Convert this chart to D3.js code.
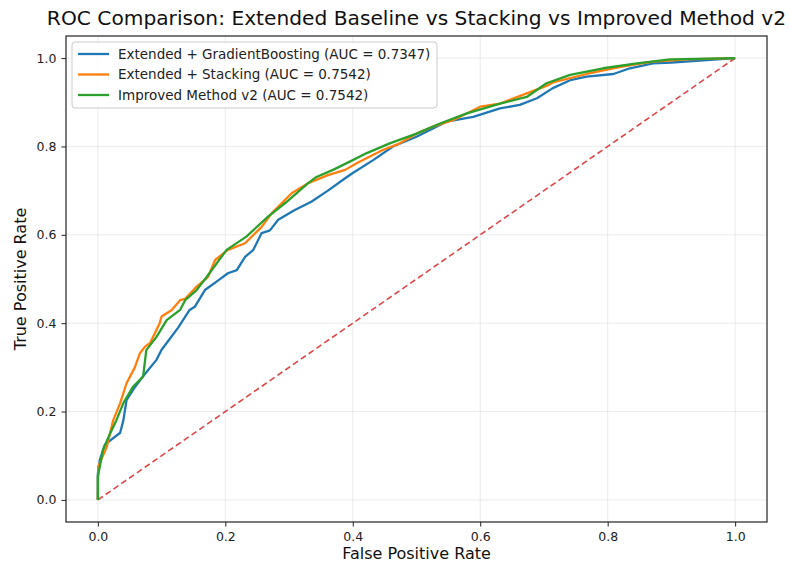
<!DOCTYPE html>
<html>
<head>
<meta charset="utf-8">
<script src="https://cdn.jsdelivr.net/npm/d3@7"></script>
<style>
  body { margin: 0; background: #fff; }
  svg { font-family: "DejaVu Sans", sans-serif; }
</style>
</head>
<body>
<svg id="chart"></svg>
<script>
// ROC points (FPR, TPR)
const gbFpr = [0, 0, 0.003, 0.011, 0.035, 0.04, 0.045, 0.058, 0.07, 0.092, 0.1, 0.108, 0.126, 0.144, 0.152, 0.168, 0.19, 0.204, 0.218, 0.231, 0.244, 0.257, 0.27, 0.283, 0.309, 0.335, 0.361, 0.388, 0.4, 0.432, 0.463, 0.5, 0.547, 0.589, 0.631, 0.662, 0.689, 0.714, 0.741, 0.767, 0.809, 0.835, 0.871, 0.9, 0.95, 1];
const gbTpr = [0, 0.06, 0.09, 0.125, 0.152, 0.18, 0.226, 0.255, 0.278, 0.317, 0.34, 0.355, 0.39, 0.43, 0.437, 0.475, 0.498, 0.513, 0.52, 0.55, 0.566, 0.604, 0.61, 0.634, 0.656, 0.675, 0.70, 0.728, 0.74, 0.769, 0.80, 0.822, 0.856, 0.867, 0.886, 0.894, 0.909, 0.932, 0.95, 0.958, 0.964, 0.977, 0.988, 0.99, 0.995, 1];

const stFpr = [0, 0.0005, 0.014, 0.024, 0.035, 0.045, 0.058, 0.066, 0.074, 0.082, 0.097, 0.1, 0.116, 0.129, 0.137, 0.155, 0.173, 0.184, 0.204, 0.231, 0.257, 0.273, 0.304, 0.33, 0.361, 0.388, 0.406, 0.447, 0.474, 0.5, 0.526, 0.558, 0.6, 0.631, 0.673, 0.704, 0.714, 0.767, 0.82, 0.871, 0.924, 1];
const stTpr = [0, 0.075, 0.12, 0.18, 0.219, 0.264, 0.30, 0.332, 0.347, 0.355, 0.40, 0.415, 0.43, 0.452, 0.455, 0.483, 0.505, 0.543, 0.566, 0.581, 0.618, 0.649, 0.694, 0.717, 0.735, 0.747, 0.762, 0.792, 0.807, 0.829, 0.845, 0.86, 0.89, 0.897, 0.92, 0.937, 0.945, 0.964, 0.98, 0.992, 0.997, 1];

const imFpr = [0, 0, 0.008, 0.019, 0.029, 0.04, 0.055, 0.071, 0.076, 0.092, 0.108, 0.129, 0.137, 0.155, 0.171, 0.202, 0.233, 0.267, 0.294, 0.33, 0.343, 0.369, 0.4, 0.422, 0.458, 0.5, 0.537, 0.579, 0.631, 0.673, 0.704, 0.741, 0.793, 0.846, 0.898, 1];
const imTpr = [0, 0.053, 0.113, 0.15, 0.18, 0.219, 0.256, 0.279, 0.339, 0.369, 0.407, 0.43, 0.452, 0.475, 0.505, 0.566, 0.596, 0.641, 0.672, 0.717, 0.731, 0.747, 0.769, 0.785, 0.807, 0.829, 0.852, 0.875, 0.897, 0.912, 0.943, 0.962, 0.977, 0.988, 0.997, 1];

const seriesNames = [
  'Extended + GradientBoosting (AUC = 0.7347)',
  'Extended + Stacking (AUC = 0.7542)',
  'Improved Method v2 (AUC = 0.7542)'
];
const seriesColors = ['#1f77b4', '#ff7f0e', '#2ca02c'];
const ticks = [0, 0.2, 0.4, 0.6, 0.8, 1.0];

const width = 790, height = 569;
const margin = { top: 36, right: 23, bottom: 47, left: 66 };

const svg = d3.select('#chart').attr('width', width).attr('height', height);

const x = d3.scaleLinear().domain([-0.05, 1.05]).range([margin.left, width - margin.right]);
const y = d3.scaleLinear().domain([-0.05, 1.05]).range([height - margin.bottom, margin.top]);

// grid
const grid = svg.append('g');
ticks.forEach(t => {
  grid.append('line').attr('x1', x(t)).attr('x2', x(t)).attr('y1', y(-0.05)).attr('y2', y(1.05))
    .attr('stroke', '#b0b0b0').attr('stroke-opacity', 0.3).attr('stroke-width', 0.8);
  grid.append('line').attr('x1', x(-0.05)).attr('x2', x(1.05)).attr('y1', y(t)).attr('y2', y(t))
    .attr('stroke', '#b0b0b0').attr('stroke-opacity', 0.3).attr('stroke-width', 0.8);
});

// diagonal
svg.append('line')
  .attr('x1', x(0)).attr('y1', y(0)).attr('x2', x(1)).attr('y2', y(1))
  .attr('stroke', '#d62728').attr('stroke-opacity', 0.85)
  .attr('stroke-width', 1.6).attr('stroke-dasharray', '6,3.5');

// curves
const line = d3.line().x(d => x(d[0])).y(d => y(d[1]));
const series = [
  d3.zip(gbFpr, gbTpr),
  d3.zip(stFpr, stTpr),
  d3.zip(imFpr, imTpr)
];
series.forEach((s, i) => {
  svg.append('path').datum(s)
    .attr('d', line)
    .attr('fill', 'none')
    .attr('stroke', seriesColors[i])
    .attr('stroke-width', 2.3)
    .attr('stroke-linejoin', 'round');
});

// axes
const xAxis = svg.append('g')
  .attr('transform', `translate(0,${height - margin.bottom})`)
  .call(d3.axisBottom(x).tickValues(ticks).tickFormat(d3.format('.1f')).tickSize(4.5).tickPadding(6));
const yAxis = svg.append('g')
  .attr('transform', `translate(${margin.left},0)`)
  .call(d3.axisLeft(y).tickValues(ticks).tickFormat(d3.format('.1f')).tickSize(4.5).tickPadding(5));
[xAxis, yAxis].forEach(a => {
  a.select('.domain').remove();
  a.selectAll('text').attr('font-size', 12.5).attr('fill', '#222').attr('font-family', 'DejaVu Sans');
  a.selectAll('line').attr('stroke', '#222');
});

// frame
svg.append('rect')
  .attr('x', margin.left).attr('y', margin.top)
  .attr('width', width - margin.left - margin.right)
  .attr('height', height - margin.top - margin.bottom)
  .attr('fill', 'none').attr('stroke', '#222').attr('stroke-width', 1.2);

// labels
svg.append('text').attr('x', (margin.left + width - margin.right) / 2).attr('y', 25)
  .attr('text-anchor', 'middle').attr('font-size', 20.2).attr('fill', '#111')
  .text('ROC Comparison: Extended Baseline vs Stacking vs Improved Method v2');
svg.append('text').attr('x', (margin.left + width - margin.right) / 2).attr('y', 559)
  .attr('text-anchor', 'middle').attr('font-size', 16).attr('fill', '#111')
  .text('False Positive Rate');
svg.append('text')
  .attr('transform', `translate(26,${(margin.top + height - margin.bottom) / 2}) rotate(-90)`)
  .attr('text-anchor', 'middle').attr('font-size', 16).attr('fill', '#111')
  .text('True Positive Rate');

// legend
const lg = svg.append('g').attr('transform', 'translate(72,42)');
lg.append('rect').attr('width', 365).attr('height', 66).attr('rx', 3)
  .attr('fill', '#fff').attr('fill-opacity', 0.85).attr('stroke', '#ccc');
seriesNames.forEach((name, i) => {
  const yy = 12 + i * 20.5;
  lg.append('line').attr('x1', 6).attr('x2', 37).attr('y1', yy).attr('y2', yy)
    .attr('stroke', seriesColors[i]).attr('stroke-width', 2.3);
  lg.append('text').attr('x', 46).attr('y', yy).attr('dy', '0.35em')
    .attr('font-size', 13.5).attr('fill', '#222').text(name);
});
</script>
</body>
</html>
